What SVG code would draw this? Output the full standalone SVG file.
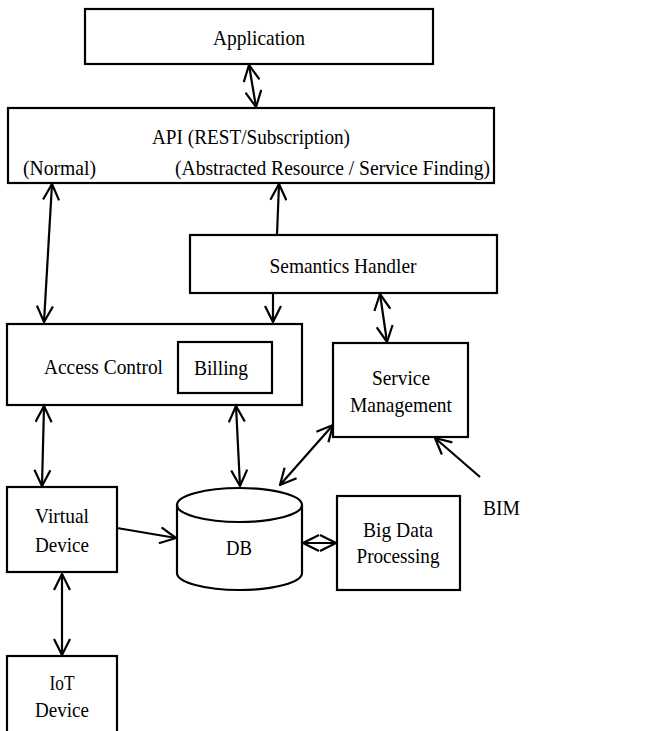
<svg xmlns="http://www.w3.org/2000/svg" width="645" height="731" viewBox="0 0 645 731">
<style>
  .box { fill: #fff; stroke: #000; stroke-width: 2.2; }
  .t { font-family: "Liberation Serif", "Times New Roman", serif; font-size: 21px; fill: #000; text-anchor: middle; }
  .tl { font-family: "Liberation Serif", "Times New Roman", serif; font-size: 21px; fill: #000; }
  .c { stroke: #000; stroke-width: 2.2; fill: none; }
</style>
<defs>
  <marker id="ah" viewBox="0 0 18 18" refX="17" refY="9" markerWidth="18" markerHeight="18" markerUnits="userSpaceOnUse" orient="auto-start-reverse">
    <path d="M1,1 L17,9 L1,17" fill="none" stroke="#000" stroke-width="2.2"/>
  </marker>
</defs>
<rect width="645" height="731" fill="#fff"/>

<g id="application">
  <rect class="box" x="85" y="9" width="348" height="55"/>
  <text class="t" x="259" y="45" textLength="92" lengthAdjust="spacingAndGlyphs">Application</text>
</g>
<g id="api">
  <rect class="box" x="8" y="108" width="486" height="75"/>
  <text class="t" x="251" y="144" textLength="198" lengthAdjust="spacingAndGlyphs">API (REST/Subscription)</text>
  <text class="tl" x="23" y="175" textLength="73" lengthAdjust="spacingAndGlyphs">(Normal)</text>
  <text class="tl" x="175" y="175" textLength="315" lengthAdjust="spacingAndGlyphs">(Abstracted Resource / Service Finding)</text>
</g>
<g id="semantics-handler">
  <rect class="box" x="190" y="235" width="307" height="58"/>
  <text class="t" x="343" y="273" textLength="147" lengthAdjust="spacingAndGlyphs">Semantics Handler</text>
</g>
<g id="access-control">
  <rect class="box" x="7" y="324" width="295" height="81"/>
  <text class="tl" x="44" y="374" textLength="119" lengthAdjust="spacingAndGlyphs">Access Control</text>
</g>
<g id="billing">
  <rect class="box" x="178" y="342" width="94" height="51"/>
  <text class="t" x="221" y="375" textLength="54" lengthAdjust="spacingAndGlyphs">Billing</text>
</g>
<g id="service-management">
  <rect class="box" x="333" y="343" width="135" height="94"/>
  <text class="t" x="401" y="385" textLength="58" lengthAdjust="spacingAndGlyphs">Service</text>
  <text class="t" x="401" y="412" textLength="102" lengthAdjust="spacingAndGlyphs">Management</text>
</g>
<g id="virtual-device">
  <rect class="box" x="7" y="487" width="110" height="85"/>
  <text class="t" x="62" y="523" textLength="54" lengthAdjust="spacingAndGlyphs">Virtual</text>
  <text class="t" x="62" y="552" textLength="54" lengthAdjust="spacingAndGlyphs">Device</text>
</g>
<g id="db">
  <path class="box" d="M177,505 L177,573 A62.5,17 0 0 0 302,573 L302,505"/>
  <ellipse class="box" cx="239.5" cy="505" rx="62.5" ry="17"/>
  <text class="t" x="239" y="555" textLength="26" lengthAdjust="spacingAndGlyphs">DB</text>
</g>
<g id="big-data-processing">
  <rect class="box" x="337" y="496" width="123" height="94"/>
  <text class="t" x="398" y="537" textLength="70" lengthAdjust="spacingAndGlyphs">Big Data</text>
  <text class="t" x="398" y="563" textLength="83" lengthAdjust="spacingAndGlyphs">Processing</text>
</g>
<g id="iot-device">
  <rect class="box" x="7" y="656" width="110" height="100"/>
  <text class="t" x="62" y="690" textLength="25" lengthAdjust="spacingAndGlyphs">IoT</text>
  <text class="t" x="62" y="717" textLength="54" lengthAdjust="spacingAndGlyphs">Device</text>
</g>
<g id="bim">
  <text class="tl" x="483" y="515" textLength="37" lengthAdjust="spacingAndGlyphs">BIM</text>
</g>

<g id="connectors">
  <line class="c" x1="249" y1="65" x2="256" y2="107" marker-start="url(#ah)" marker-end="url(#ah)"/>
  <line class="c" x1="52" y1="184" x2="44" y2="322" marker-start="url(#ah)" marker-end="url(#ah)"/>
  <line class="c" x1="277" y1="235" x2="279" y2="184" marker-end="url(#ah)"/>
  <line class="c" x1="273" y1="293" x2="273" y2="322" marker-end="url(#ah)"/>
  <line class="c" x1="380" y1="294" x2="387" y2="342" marker-start="url(#ah)" marker-end="url(#ah)"/>
  <line class="c" x1="44" y1="406" x2="42" y2="486" marker-start="url(#ah)" marker-end="url(#ah)"/>
  <line class="c" x1="236" y1="406" x2="240" y2="486" marker-start="url(#ah)" marker-end="url(#ah)"/>
  <line class="c" x1="333" y1="425" x2="280" y2="485" marker-start="url(#ah)" marker-end="url(#ah)"/>
  <line class="c" x1="480" y1="477" x2="435" y2="438" marker-end="url(#ah)"/>
  <line class="c" x1="117" y1="528" x2="176" y2="538" marker-end="url(#ah)"/>
  <line class="c" x1="303" y1="543" x2="336" y2="543" marker-start="url(#ah)" marker-end="url(#ah)"/>
  <line class="c" x1="62" y1="574" x2="62" y2="655" marker-start="url(#ah)" marker-end="url(#ah)"/>
</g>
</svg>
